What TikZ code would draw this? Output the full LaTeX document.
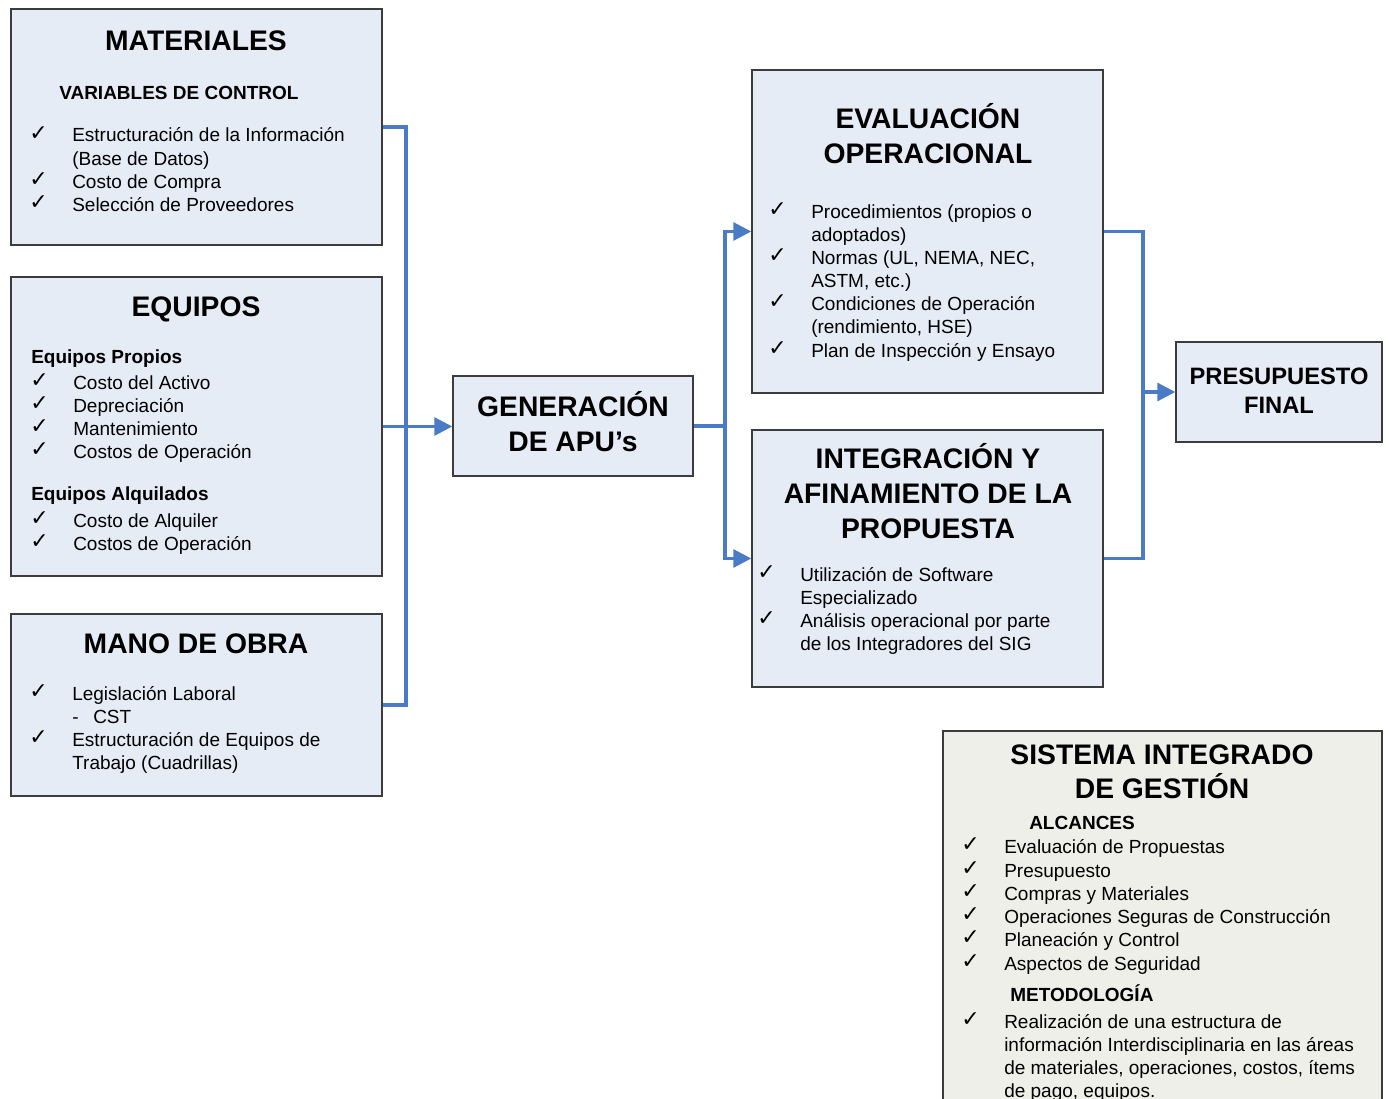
\documentclass[tikz,border=0pt]{standalone}
\usepackage{fontspec}
\setmainfont{Liberation Sans}
\newfontfamily\chkfont{DejaVu Sans}
\usetikzlibrary{arrows.meta,fit,calc}
\definecolor{boxfill}{HTML}{E6ECF6}
\definecolor{sigfill}{HTML}{EFEFE9}
\definecolor{linkblue}{HTML}{4A7BC6}
\definecolor{boxline}{HTML}{3C3C3C}
\begin{document}
\begin{tikzpicture}[x=0.75pt,y=-0.75pt,
  box/.style={draw=boxline, line width=1.1pt, fill=boxfill, inner sep=0pt},
  sigbox/.style={box, fill=sigfill},
  conn/.style={draw=linkblue, line width=2.3pt},
  arr/.style={conn, -{Triangle[length=13.5pt,width=13.5pt]}},
  ttl/.style={anchor=base, inner sep=0pt, font=\fontsize{21.2}{25}\selectfont\bfseries},
  ttls/.style={anchor=base, inner sep=0pt, font=\fontsize{17.8}{21}\selectfont\bfseries},
  hd/.style={anchor=base west, inner sep=0pt, font=\fontsize{14.25}{17}\selectfont\bfseries},
  txt/.style={anchor=base west, inner sep=0pt, font=\fontsize{14.25}{17}\selectfont},
  ck/.style={anchor=base west, inner sep=0pt, font=\chkfont\fontsize{16.5}{18}\selectfont},
]
\useasboundingbox (0,0) rectangle (1389,1099);
\clip (0,0) rectangle (1389,1099);
\fill[white] (0,0) rectangle (1389,1099);

% boxes
\node[box, fit={(11,9) (382,245)}] (mat) {};
\node[box, fit={(11,277) (382,576)}] (equ) {};
\node[box, fit={(11,614) (382,796)}] (mano) {};
\node[box, fit={(453,376) (693,476)}] (gen) {};
\node[box, fit={(752,70) (1103,393)}] (eval) {};
\node[box, fit={(752,430) (1103,687)}] (integ) {};
\node[box, fit={(1176,342) (1382,442)}] (pres) {};
\node[sigbox, fit={(943,731) (1382,1130)}] (sig) {};

% connectors
\coordinate (lb) at (406,0);
\coordinate (mb) at (725,0);
\coordinate (rb) at (1143,0);
\draw[conn] (mat.east) -- (mat.east -| lb) -- (mano.east -| lb) -- (mano.east);
\draw[arr] (equ.east) -- (equ.east -| gen.west);
\draw[conn] (gen.east) -- (gen.east -| mb);
\draw[arr] (integ.west -| mb) -- (eval.west -| mb) -- (eval.west);
\draw[arr] (eval.west -| mb) -- (integ.west -| mb) -- (integ.west);
\draw[conn] (eval.east) -- (eval.east -| rb) -- (integ.east -| rb) -- (integ.east);
\draw[arr] (pres.west -| rb) -- (pres.west);

% MATERIALES
\node[ttl] (matT) at (196,51) {MATERIALES};
\node[hd] (matH) at (59,99) {VARIABLES DE CONTROL};
\node[ck] (matC1) at (29,140) {✓};
\node[ck] (matC2) at (29,186) {✓};
\node[ck] (matC3) at (29,209) {✓};
\node[txt] (matL1) at (72,142) {Estructuración de la Información};
\node[txt] (matL2) at (72,165) {(Base de Datos)};
\node[txt] (matL3) at (72,188) {Costo de Compra};
\node[txt] (matL4) at (72,211) {Selección de Proveedores};

% EQUIPOS
\node[ttl] (equT) at (196,316) {EQUIPOS};
\node[hd] (equH1) at (31,363) {Equipos Propios};
\node[ck] (equC1) at (30,387) {✓};
\node[ck] (equC2) at (30,410) {✓};
\node[ck] (equC3) at (30,433) {✓};
\node[ck] (equC4) at (30,456) {✓};
\node[txt] (equL1) at (73,389) {Costo del Activo};
\node[txt] (equL2) at (73,412) {Depreciación};
\node[txt] (equL3) at (73,435) {Mantenimiento};
\node[txt] (equL4) at (73,458) {Costos de Operación};
\node[hd] (equH2) at (31,500) {Equipos Alquilados};
\node[ck] (equC5) at (30,525) {✓};
\node[ck] (equC6) at (30,548) {✓};
\node[txt] (equL5) at (73,527) {Costo de Alquiler};
\node[txt] (equL6) at (73,550) {Costos de Operación};

% MANO DE OBRA
\node[ttl] (manoT) at (196,653) {MANO DE OBRA};
\node[ck] (manoC1) at (29,698) {✓};
\node[ck] (manoC2) at (29,744) {✓};
\node[txt] (manoL1) at (72,700) {Legislación Laboral};
\node[txt] (manoD) at (72,723) {-};
\node[txt] (manoL2) at (93,723) {CST};
\node[txt] (manoL3) at (72,746) {Estructuración de Equipos de};
\node[txt] (manoL4) at (72,769) {Trabajo (Cuadrillas)};

% GENERACION
\node[ttl] (genT1) at (573,416) {GENERACIÓN};
\node[ttl] (genT2) at (573,451) {DE APU’s};

% EVALUACION
\node[ttl] (evalT1) at (928,128) {EVALUACIÓN};
\node[ttl] (evalT2) at (928,163) {OPERACIONAL};
\node[ck] (evalC1) at (768,216) {✓};
\node[ck] (evalC2) at (768,262) {✓};
\node[ck] (evalC3) at (768,308) {✓};
\node[ck] (evalC4) at (768,355) {✓};
\node[txt] (evalL1) at (811,218) {Procedimientos (propios o};
\node[txt] (evalL2) at (811,241) {adoptados)};
\node[txt] (evalL3) at (811,264) {Normas (UL, NEMA, NEC,};
\node[txt] (evalL4) at (811,287) {ASTM, etc.)};
\node[txt] (evalL5) at (811,310) {Condiciones de Operación};
\node[txt] (evalL6) at (811,333) {(rendimiento, HSE)};
\node[txt] (evalL7) at (811,357) {Plan de Inspección y Ensayo};

% INTEGRACION
\node[ttl] (intT1) at (928,468) {INTEGRACIÓN Y};
\node[ttl] (intT2) at (928,503) {AFINAMIENTO DE LA};
\node[ttl] (intT3) at (928,538) {PROPUESTA};
\node[ck] (intC1) at (757,579) {✓};
\node[ck] (intC2) at (757,625) {✓};
\node[txt] (intL1) at (800,581) {Utilización de Software};
\node[txt] (intL2) at (800,604) {Especializado};
\node[txt] (intL3) at (800,627) {Análisis operacional por parte};
\node[txt] (intL4) at (800,650) {de los Integradores del SIG};

% PRESUPUESTO
\node[ttls] (presT1) at (1279,384) {PRESUPUESTO};
\node[ttls] (presT2) at (1279,413) {FINAL};

% SISTEMA INTEGRADO
\node[ttl] (sigT1) at (1162,764) {SISTEMA INTEGRADO};
\node[ttl] (sigT2) at (1162,798) {DE GESTIÓN};
\node[hd] (sigH1) at (1029,829) {ALCANCES};
\node[ck] (sigC1) at (961,851) {✓};
\node[ck] (sigC2) at (961,875) {✓};
\node[ck] (sigC3) at (961,898) {✓};
\node[ck] (sigC4) at (961,921) {✓};
\node[ck] (sigC5) at (961,944) {✓};
\node[ck] (sigC6) at (961,968) {✓};
\node[txt] (sigL1) at (1004,853) {Evaluación de Propuestas};
\node[txt] (sigL2) at (1004,877) {Presupuesto};
\node[txt] (sigL3) at (1004,900) {Compras y Materiales};
\node[txt] (sigL4) at (1004,923) {Operaciones Seguras de Construcción};
\node[txt] (sigL5) at (1004,946) {Planeación y Control};
\node[txt] (sigL6) at (1004,970) {Aspectos de Seguridad};
\node[hd] (sigH2) at (1010,1001) {METODOLOGÍA};
\node[ck] (sigC7) at (961,1026) {✓};
\node[txt] (sigM1) at (1004,1028) {Realización de una estructura de};
\node[txt] (sigM2) at (1004,1051) {información Interdisciplinaria en las áreas};
\node[txt] (sigM3) at (1004,1074) {de materiales, operaciones, costos, ítems};
\node[txt] (sigM4) at (1004,1097) {de pago, equipos.};
\end{tikzpicture}
\end{document}
